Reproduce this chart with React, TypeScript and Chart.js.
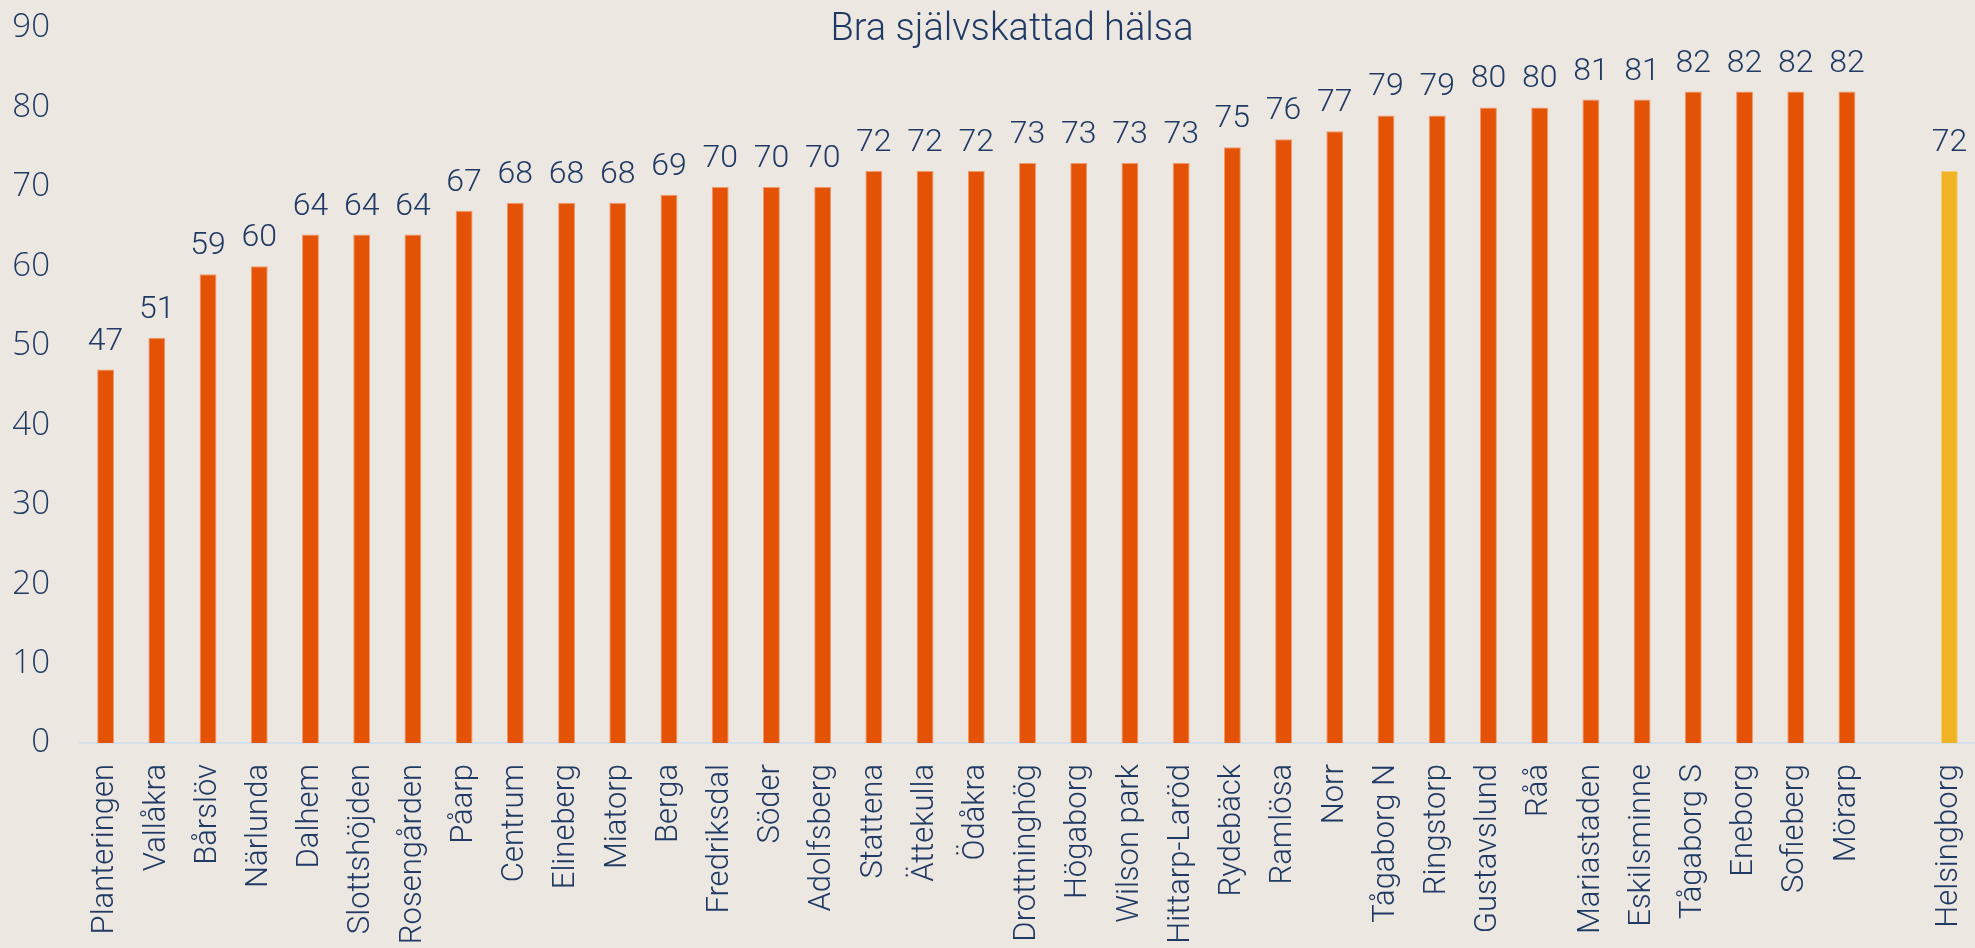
import React, { useEffect, useRef } from 'react';
import { Chart, registerables } from 'chart.js';

Chart.register(...registerables);

const categories: string[] = [
  'Planteringen', 'Vallåkra', 'Bårslöv', 'Närlunda', 'Dalhem', 'Slottshöjden', 'Rosengården',
  'Påarp', 'Centrum', 'Elineberg', 'Miatorp', 'Berga', 'Fredriksdal', 'Söder', 'Adolfsberg',
  'Stattena', 'Ättekulla', 'Ödåkra', 'Drottninghög', 'Högaborg', 'Wilson park', 'Hittarp-Laröd',
  'Rydebäck', 'Ramlösa', 'Norr', 'Tågaborg N', 'Ringstorp', 'Gustavslund', 'Råå', 'Mariastaden',
  'Eskilsminne', 'Tågaborg S', 'Eneborg', 'Sofieberg', 'Mörarp', '', 'Helsingborg',
];

const values: (number | null)[] = [
  47, 51, 59, 60, 64, 64, 64,
  67, 68, 68, 68, 69, 70, 70, 70,
  72, 72, 72, 73, 73, 73, 73,
  75, 76, 77, 79, 79, 80, 80, 81,
  81, 82, 82, 82, 82, null, 72,
];

const totalLabel = 'Helsingborg';
const yTicks = [0, 10, 20, 30, 40, 50, 60, 70, 80, 90];
const title = 'Bra självskattad hälsa';

const BG = '#ECE7E1';
const TEXT = '#1F3A64';
const ORANGE = '#E35205';
const YELLOW = '#F0B323';

export default function App() {
  const ref = useRef<HTMLCanvasElement | null>(null);

  useEffect(() => {
    document.body.style.margin = '0';
    document.body.style.background = BG;
    const canvas = ref.current;
    if (!canvas) return;

    const bgPlugin = {
      id: 'bg',
      beforeDraw(chart: any) {
        const ctx = chart.ctx;
        ctx.save();
        ctx.fillStyle = BG;
        ctx.fillRect(0, 0, chart.width, chart.height);
        ctx.restore();
      },
    };

    const labelPlugin = {
      id: 'vlabels',
      afterDatasetsDraw(chart: any) {
        const ctx = chart.ctx;
        const meta = chart.getDatasetMeta(0);
        ctx.save();
        ctx.font = '300 32px Roboto';
        ctx.fillStyle = TEXT;
        ctx.textAlign = 'center';
        ctx.textBaseline = 'alphabetic';
        meta.data.forEach((el: any, i: number) => {
          const v = values[i];
          if (v == null) return;
          ctx.fillText(String(v), el.x, el.y - 20);
        });
        ctx.restore();
      },
    };

    const titlePlugin = {
      id: 'ctitle',
      afterDraw(chart: any) {
        const ctx = chart.ctx;
        ctx.save();
        ctx.font = '300 38px Roboto';
        ctx.fillStyle = TEXT;
        ctx.textAlign = 'center';
        ctx.textBaseline = 'middle';
        ctx.fillText(title, 1012, 30);
        ctx.restore();
      },
    };

    const chart = new Chart(canvas, {
      type: 'bar',
      data: {
        labels: categories,
        datasets: [
          {
            data: values as any,
            backgroundColor: categories.map((c) => (c === totalLabel ? YELLOW : ORANGE)),
            borderColor: categories.map((c) => (c === totalLabel ? '#F5CE7A' : '#F09A6C')),
            borderWidth: 1,
            barPercentage: 0.33,
            categoryPercentage: 1,
          },
        ],
      },
      options: {
        responsive: false,
        animation: false,
        layout: { padding: { top: 28, left: 0, right: 0, bottom: 0 } },
        plugins: {
          legend: { display: false },
          title: { display: false },
          tooltip: { enabled: false },
        },
        scales: {
          x: {
            grid: { display: false, drawTicks: false },
            border: { display: true, color: '#D6DFEC', width: 2 },
            ticks: {
              autoSkip: false,
              maxRotation: 90,
              minRotation: 90,
              padding: 21,
              color: TEXT,
              font: { family: 'Roboto', size: 31, weight: '300' as any },
            },
            afterFit(scale: any) {
              scale.height = 205;
              scale.paddingLeft = 0;
              scale.paddingRight = 0;
            },
          },
          y: {
            min: 0,
            max: 90,
            grid: { display: false, drawTicks: false },
            border: { display: false },
            afterBuildTicks(scale: any) {
              scale.ticks = yTicks.map((v) => ({ value: v }));
            },
            ticks: {
              padding: 30,
              color: TEXT,
              font: { family: 'Open Sans', size: 33, weight: '300' as any },
            },
            afterFit(scale: any) {
              scale.width = 80;
              scale.paddingTop = 0;
              scale.paddingBottom = 0;
            },
          },
        },
      },
      plugins: [bgPlugin, labelPlugin, titlePlugin],
    });

    return () => chart.destroy();
  }, []);

  return (
    <div style={{ width: 1975, height: 948 }}>
      <canvas ref={ref} width={1975} height={948} style={{ display: 'block' }} />
    </div>
  );
}
